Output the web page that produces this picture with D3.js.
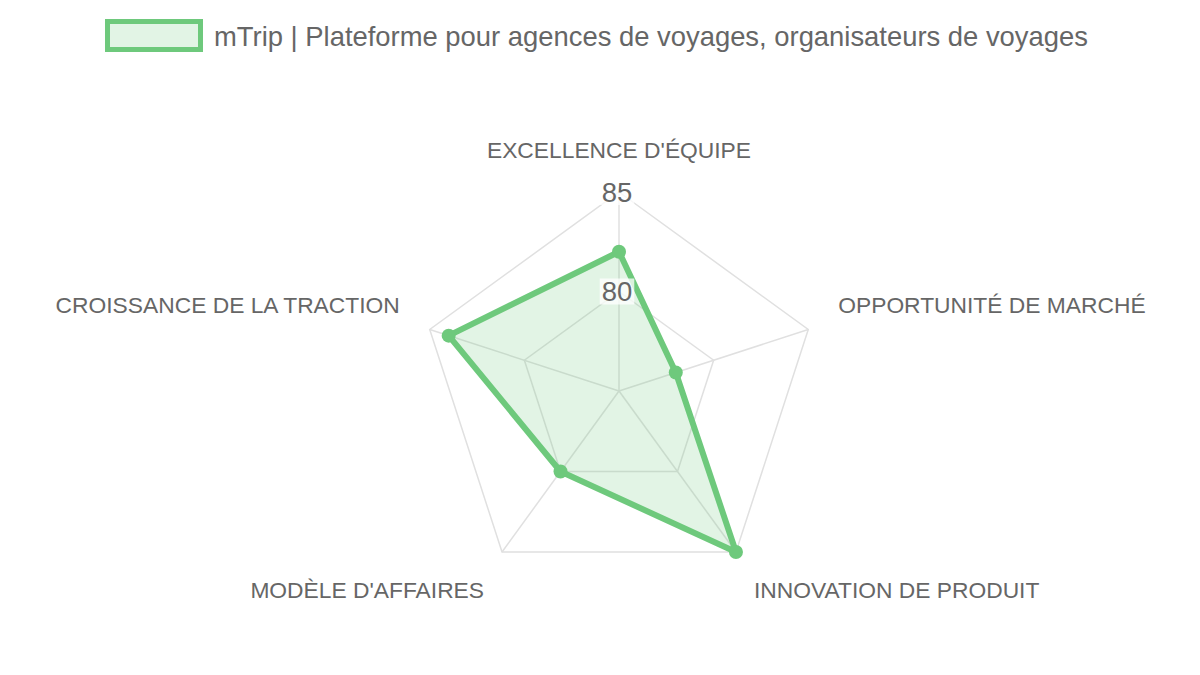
<!DOCTYPE html>
<html>
<head>
<meta charset="utf-8">
<script src="https://cdn.jsdelivr.net/npm/d3@7"></script>
<style>
  body { margin: 0; background: #fff; }
  svg { display: block; font-family: "Liberation Sans", Arial, sans-serif; }
</style>
</head>
<body>
<div id="chart"></div>
<script>
var axes_labels = ["EXCELLENCE D'ÉQUIPE", "OPPORTUNITÉ DE MARCHÉ", "INNOVATION DE PRODUIT", "MODÈLE D'AFFAIRES", "CROISSANCE DE LA TRACTION"];
var series_name = "mTrip | Plateforme pour agences de voyages, organisateurs de voyages";
var series_values = [82, 78, 85, 80, 84];
var tick_values = [80, 85];
var scale_domain = [75, 85];

var width = 1200,
    height = 675,
    cx = 619,
    cy = 391,
    radius = 199,
    line_color = "#6ec97c",
    fill_color = "rgba(110, 201, 124, 0.2)",
    grid_color = "#e0e0e0",
    text_color = "#666";

var svg = d3.select("#chart").append("svg")
    .attr("width", width)
    .attr("height", height);

var r = d3.scaleLinear().domain(scale_domain).range([0, radius]);
var n = axes_labels.length;

function angle(i) {
  return -Math.PI / 2 + i * 2 * Math.PI / n;
}

function point(i, v) {
  return [cx + r(v) * Math.cos(angle(i)), cy + r(v) * Math.sin(angle(i))];
}

// legend
var legend = svg.append("g");
legend.append("rect")
    .attr("x", 107.5).attr("y", 21.5)
    .attr("width", 93).attr("height", 28)
    .attr("fill", fill_color)
    .attr("stroke", line_color)
    .attr("stroke-width", 5);
legend.append("text")
    .attr("x", 214).attr("y", 36)
    .attr("dy", "0.35em")
    .attr("font-size", 27.4)
    .attr("fill", text_color)
    .text(series_name);

// grid
var grid = svg.append("g");
tick_values.forEach(function (t) {
  grid.append("polygon")
      .attr("points", d3.range(n).map(function (i) { return point(i, t).join(","); }).join(" "))
      .attr("fill", "none")
      .attr("stroke", grid_color)
      .attr("stroke-width", 1.5);
});
d3.range(n).forEach(function (i) {
  var p = point(i, scale_domain[1]);
  grid.append("line")
      .attr("x1", cx).attr("y1", cy)
      .attr("x2", p[0]).attr("y2", p[1])
      .attr("stroke", grid_color)
      .attr("stroke-width", 1.5);
});

// data
var pts = series_values.map(function (v, i) { return point(i, v); });
svg.append("polygon")
    .attr("points", pts.map(function (p) { return p.join(","); }).join(" "))
    .attr("fill", fill_color)
    .attr("stroke", line_color)
    .attr("stroke-width", 6)
    .attr("stroke-linejoin", "round");
svg.selectAll("circle.pt").data(pts).enter().append("circle")
    .attr("class", "pt")
    .attr("cx", function (d) { return d[0]; })
    .attr("cy", function (d) { return d[1]; })
    .attr("r", 7)
    .attr("fill", line_color);

// tick labels with backdrop
var ticks = svg.append("g");
tick_values.forEach(function (t) {
  var y = cy - r(t);
  var g = ticks.append("g");
  var txt = g.append("text")
      .attr("x", cx - 2).attr("y", y)
      .attr("dy", "0.36em")
      .attr("text-anchor", "middle")
      .attr("font-size", 27.5)
      .attr("fill", text_color)
      .text(t);
  var bb = txt.node().getBBox();
  g.insert("rect", "text")
      .attr("x", bb.x - 2).attr("y", y - 13)
      .attr("width", bb.width + 4).attr("height", 26)
      .attr("fill", "rgba(255,255,255,0.75)");
});

// axis labels
svg.append("g").selectAll("text").data(axes_labels).enter().append("text")
    .attr("x", function (d, i) {
      var p = point(i, scale_domain[1]);
      var a = angle(i);
      var off = 30;
      return i === 0 ? p[0] : p[0] + Math.sign(Math.cos(a)) * off * (i === 2 || i === 3 ? 0.6 : 1);
    })
    .attr("y", function (d, i) {
      var p = point(i, scale_domain[1]);
      if (i === 0) return p[1] - 42;
      if (i === 1 || i === 4) return p[1] - 24;
      return p[1] + 38;
    })
    .attr("dy", "0.35em")
    .attr("text-anchor", function (d, i) { return i === 0 ? "middle" : (i <= 2 ? "start" : "end"); })
    .attr("font-size", 22.8)
    .attr("fill", text_color)
    .text(function (d) { return d; });
</script>
</body>
</html>
